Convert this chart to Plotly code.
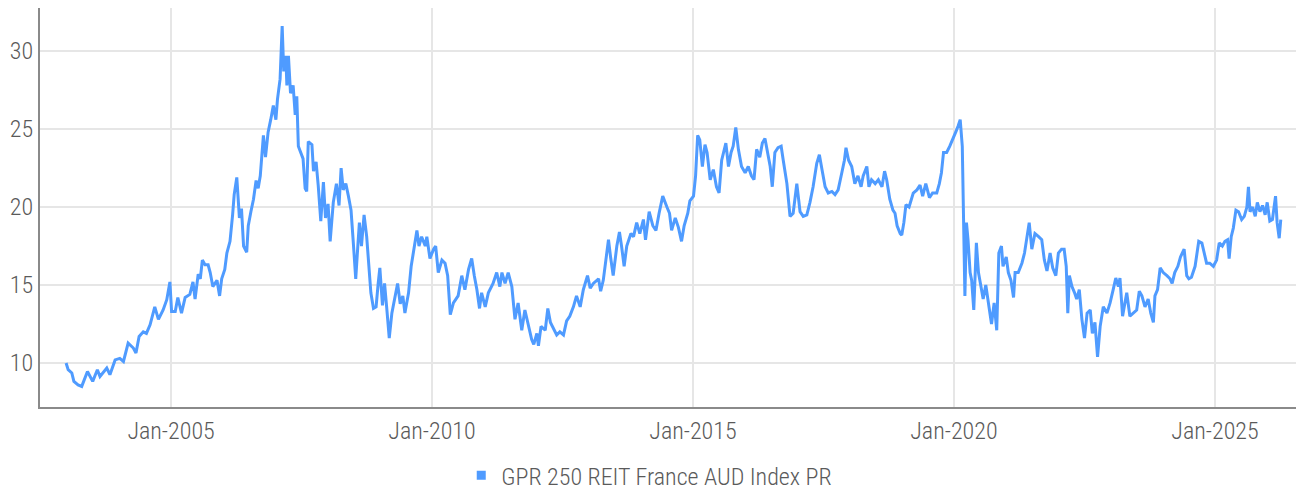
import pandas as pd
import plotly.graph_objects as go

SERIES_NAME = "GPR 250 REIT France AUD Index PR"

# decimal-year dates and index values
years = [
    2002.99, 2003.03, 2003.10, 2003.14, 2003.22, 2003.29, 2003.40, 2003.50, 2003.59, 2003.64,
    2003.77, 2003.83, 2003.93, 2004.02, 2004.09, 2004.18, 2004.28, 2004.33, 2004.39, 2004.47,
    2004.53, 2004.60, 2004.69, 2004.76, 2004.85, 2004.92, 2004.98, 2005.01, 2005.08, 2005.13,
    2005.20, 2005.27, 2005.36, 2005.42, 2005.46, 2005.52, 2005.56, 2005.60, 2005.65, 2005.71,
    2005.75, 2005.80, 2005.88, 2005.93, 2005.97, 2006.03, 2006.07, 2006.13, 2006.18, 2006.21,
    2006.26, 2006.31, 2006.35, 2006.39, 2006.45, 2006.48, 2006.53, 2006.58, 2006.63, 2006.67,
    2006.71, 2006.77, 2006.81, 2006.86, 2006.91, 2006.96, 2007.01, 2007.04, 2007.09, 2007.13,
    2007.16, 2007.20, 2007.22, 2007.25, 2007.29, 2007.34, 2007.38, 2007.41, 2007.44, 2007.50,
    2007.53, 2007.57, 2007.60, 2007.63, 2007.70, 2007.73, 2007.78, 2007.82, 2007.87, 2007.92,
    2007.96, 2008.01, 2008.05, 2008.11, 2008.17, 2008.22, 2008.26, 2008.30, 2008.35, 2008.40,
    2008.45, 2008.49, 2008.54, 2008.58, 2008.61, 2008.65, 2008.70, 2008.75, 2008.79, 2008.83,
    2008.88, 2008.93, 2008.97, 2009.00, 2009.05, 2009.09, 2009.13, 2009.18, 2009.23, 2009.29,
    2009.34, 2009.39, 2009.44, 2009.48, 2009.55, 2009.60, 2009.64, 2009.71, 2009.75, 2009.80,
    2009.87, 2009.90, 2009.96, 2010.03, 2010.07, 2010.12, 2010.19, 2010.25, 2010.30, 2010.35,
    2010.41, 2010.50, 2010.57, 2010.63, 2010.70, 2010.76, 2010.81, 2010.86, 2010.91, 2010.95,
    2011.02, 2011.08, 2011.17, 2011.24, 2011.30, 2011.34, 2011.40, 2011.46, 2011.53, 2011.59,
    2011.65, 2011.72, 2011.78, 2011.85, 2011.91, 2011.95, 2012.01, 2012.04, 2012.09, 2012.17,
    2012.22, 2012.27, 2012.34, 2012.39, 2012.45, 2012.52, 2012.58, 2012.64, 2012.71, 2012.77,
    2012.84, 2012.90, 2012.98, 2013.03, 2013.09, 2013.19, 2013.23, 2013.28, 2013.33, 2013.38,
    2013.42, 2013.47, 2013.54, 2013.59, 2013.63, 2013.68, 2013.73, 2013.81, 2013.86, 2013.92,
    2013.98, 2014.05, 2014.09, 2014.16, 2014.23, 2014.29, 2014.35, 2014.42, 2014.50, 2014.55,
    2014.59, 2014.66, 2014.72, 2014.78, 2014.83, 2014.90, 2014.94, 2015.01, 2015.05, 2015.09,
    2015.13, 2015.18, 2015.23, 2015.27, 2015.33, 2015.39, 2015.45, 2015.50, 2015.55, 2015.63,
    2015.68, 2015.73, 2015.77, 2015.82, 2015.87, 2015.93, 2016.00, 2016.06, 2016.12, 2016.17,
    2016.22, 2016.28, 2016.33, 2016.38, 2016.43, 2016.48, 2016.52, 2016.57, 2016.63, 2016.69,
    2016.73, 2016.80, 2016.86, 2016.92, 2016.99, 2017.05, 2017.11, 2017.18, 2017.24, 2017.30,
    2017.37, 2017.42, 2017.47, 2017.53, 2017.59, 2017.66, 2017.72, 2017.78, 2017.85, 2017.90,
    2017.93, 2017.98, 2018.04, 2018.10, 2018.16, 2018.22, 2018.26, 2018.33, 2018.37, 2018.42,
    2018.49, 2018.55, 2018.62, 2018.67, 2018.71, 2018.77, 2018.83, 2018.87, 2018.91, 2018.97,
    2019.00, 2019.04, 2019.08, 2019.14, 2019.22, 2019.29, 2019.35, 2019.40, 2019.46, 2019.53,
    2019.59, 2019.67, 2019.72, 2019.76, 2019.80, 2019.86, 2019.92, 2019.99, 2020.04, 2020.08,
    2020.12, 2020.16, 2020.19, 2020.21, 2020.24, 2020.27, 2020.31, 2020.34, 2020.38, 2020.43,
    2020.47, 2020.51, 2020.56, 2020.61, 2020.66, 2020.72, 2020.77, 2020.82, 2020.86, 2020.91,
    2020.94, 2021.00, 2021.04, 2021.09, 2021.14, 2021.17, 2021.23, 2021.30, 2021.35, 2021.39,
    2021.44, 2021.49, 2021.55, 2021.62, 2021.68, 2021.73, 2021.78, 2021.84, 2021.89, 2021.95,
    2022.00, 2022.06, 2022.11, 2022.15, 2022.18, 2022.21, 2022.26, 2022.31, 2022.35, 2022.40,
    2022.45, 2022.50, 2022.55, 2022.61, 2022.65, 2022.70, 2022.75, 2022.80, 2022.86, 2022.93,
    2022.99, 2023.05, 2023.10, 2023.15, 2023.18, 2023.23, 2023.31, 2023.37, 2023.44, 2023.50,
    2023.55, 2023.60, 2023.66, 2023.72, 2023.77, 2023.82, 2023.85, 2023.90, 2023.95, 2024.01,
    2024.08, 2024.14, 2024.18, 2024.23, 2024.29, 2024.34, 2024.41, 2024.46, 2024.50, 2024.55,
    2024.62, 2024.69, 2024.75, 2024.79, 2024.84, 2024.90, 2024.97, 2025.03, 2025.08, 2025.14,
    2025.19, 2025.24, 2025.27, 2025.31, 2025.35, 2025.40, 2025.45, 2025.51, 2025.56, 2025.61,
    2025.64, 2025.67, 2025.72, 2025.77, 2025.81, 2025.86, 2025.91, 2025.96, 2026.00, 2026.05,
    2026.10, 2026.16, 2026.19, 2026.23, 2026.26,
]

values = [
    10.0, 9.57, 9.36, 8.82, 8.6, 8.5, 9.46, 8.82, 9.57, 9.14,
    9.68, 9.25, 10.2, 10.3, 10.1, 11.28, 10.96, 10.64, 11.7, 12.0,
    11.9, 12.45, 13.6, 12.8, 13.4, 14.06, 15.2, 13.3, 13.3, 14.2,
    13.2, 14.2, 14.4, 15.2, 14.1, 15.7, 15.4, 16.6, 16.3, 16.3,
    15.8, 14.9, 15.3, 14.3, 15.4, 16.0, 17.05, 17.8, 19.5, 20.8,
    21.9, 19.3, 19.9, 17.5, 17.1, 18.8, 19.7, 20.5, 21.7, 21.2,
    22.0, 24.6, 23.2, 24.8, 25.6, 26.5, 25.6, 26.9, 28.2, 31.6,
    28.7, 29.7, 27.8, 29.7, 27.3, 27.8, 25.9, 27.1, 23.9, 23.3,
    23.1, 21.2, 21.0, 24.2, 24.0, 22.3, 22.9, 21.4, 19.1, 21.6,
    19.3, 20.2, 17.8, 20.3, 21.5, 20.1, 22.5, 21.1, 21.5, 20.7,
    19.8, 17.9, 15.4, 17.5, 19.0, 17.5, 19.5, 18.1, 16.2, 14.5,
    13.5, 13.6, 15.1, 16.1, 13.7, 15.1, 13.6, 11.6, 13.2, 14.3,
    15.1, 13.8, 14.3, 13.2, 14.5, 16.2, 17.05, 18.5, 17.5, 18.1,
    17.5, 18.1, 16.7, 17.3, 17.5, 15.8, 16.6, 16.4, 15.6, 13.1,
    13.85, 14.3, 15.6, 14.7, 16.0, 16.7, 15.6, 14.7, 13.5, 14.5,
    13.6, 14.5, 15.1, 15.8, 14.9, 15.8, 15.1, 15.8, 14.9, 12.8,
    13.85, 12.1, 13.4, 12.35, 11.5, 11.2, 11.9, 11.1, 12.35, 12.1,
    13.5, 12.6, 12.1, 11.8, 12.0, 11.8, 12.7, 13.0, 13.6, 14.3,
    13.6, 14.7, 15.6, 14.8, 15.1, 15.4, 14.6, 15.3, 16.6, 17.9,
    16.8, 15.6, 17.5, 18.4, 17.5, 16.2, 17.5, 18.3, 18.1, 19.0,
    18.3, 19.2, 17.9, 19.7, 18.8, 18.5, 19.6, 20.7, 20.0, 19.6,
    18.5, 19.3, 18.7, 17.8, 18.8, 19.6, 20.4, 20.7, 22.0, 24.6,
    24.3, 22.6, 24.0, 23.5, 21.75, 22.4, 21.3, 20.9, 23.0, 24.1,
    22.6, 23.5, 23.9, 25.1, 23.7, 22.6, 22.2, 22.6, 22.0, 21.75,
    23.7, 23.2, 24.1, 24.4, 23.5, 22.6, 21.3, 23.5, 23.8, 23.9,
    23.0, 21.5, 19.4, 19.6, 21.5, 19.7, 19.4, 19.5, 20.3, 21.3,
    22.8, 23.35, 22.4, 21.3, 20.9, 21.0, 20.8, 21.1, 22.2, 23.0,
    23.8, 23.0, 22.6, 21.5, 22.0, 21.3, 22.0, 22.6, 21.3, 21.75,
    21.5, 21.75, 21.3, 22.3, 21.75, 20.5, 19.8, 19.6, 18.8, 18.3,
    18.2, 19.0, 20.15, 20.0, 20.9, 21.1, 21.4, 20.7, 21.5, 20.6,
    20.9, 20.9, 21.5, 22.2, 23.5, 23.5, 23.9, 24.4, 24.85, 25.2,
    25.6, 23.9, 19.2, 14.3, 19.0, 17.9, 15.8, 15.3, 13.4, 17.7,
    15.8, 15.1, 14.1, 15.0, 13.85, 12.5, 13.85, 12.1, 17.05, 17.5,
    16.2, 16.8, 15.8, 15.3, 14.2, 15.8, 15.8, 16.4, 17.05, 17.9,
    19.0, 17.3, 18.3, 18.1, 17.9, 16.6, 15.9, 17.05, 16.1, 15.6,
    17.05, 17.3, 17.3, 16.2, 13.2, 15.6, 14.9, 14.5, 14.1, 14.7,
    12.8, 11.6, 13.2, 13.4, 11.9, 12.6, 10.4, 12.35, 13.6, 13.2,
    13.85, 14.7, 15.45, 14.9, 15.45, 13.0, 14.5, 13.0, 13.2, 13.4,
    14.6, 14.3, 13.6, 14.1, 13.2, 12.6, 14.3, 14.7, 16.1, 15.8,
    15.6, 15.4, 15.1, 15.8, 16.2, 16.8, 17.3, 15.6, 15.4, 15.5,
    16.2, 17.8, 17.7, 17.05, 16.4, 16.4, 16.2, 16.6, 17.7, 17.5,
    17.8, 17.9, 16.7, 18.1, 18.65, 19.8, 19.7, 19.2, 19.4, 20.0,
    21.3, 19.7, 20.0, 19.4, 20.3, 19.7, 20.1, 19.5, 20.3, 19.1,
    19.2, 20.7, 19.0, 18.0, 19.2,
]

y_ticks = [10, 15, 20, 25, 30]
x_tick_years = [2005, 2010, 2015, 2020, 2025]
x_tick_labels = ["Jan-2005", "Jan-2010", "Jan-2015", "Jan-2020", "Jan-2025"]


def to_date(y):
    base = int(y)
    return pd.Timestamp(f"{base}-01-01") + pd.Timedelta(days=(y - base) * 365.25)


dates = [to_date(y) for y in years]
tick_dates = [pd.Timestamp(f"{y}-01-01") for y in x_tick_years]

LINE_COLOR = "#4f9bff"
FONT = "Roboto Condensed, Liberation Sans Narrow, Arial Narrow, sans-serif"

fig = go.Figure()
fig.add_trace(go.Scatter(
    x=dates, y=values, mode="lines", name=SERIES_NAME,
    line=dict(color=LINE_COLOR, width=3), showlegend=False,
))
fig.add_trace(go.Scatter(
    x=[None], y=[None], mode="markers", name=SERIES_NAME,
    marker=dict(symbol="square", size=9, color=LINE_COLOR),
))

# the page body has an 8px default margin, so the figure is sized to fit
fig.update_layout(
    width=1296, height=485,
    margin=dict(l=32, r=0, t=0, b=86, autoexpand=False),
    paper_bgcolor="white", plot_bgcolor="white",
    font=dict(family=FONT, size=24, color="#5a5a5a", weight=300),
    legend=dict(
        orientation="h", x=0.482, xanchor="center",
        y=0.036, yref="container", yanchor="middle",
        font=dict(family=FONT, size=24, color="#5a5a5a", weight=300),
        itemwidth=30,
    ),
    xaxis=dict(
        type="date", automargin=False,
        range=[to_date(2002.49), to_date(2026.705)],
        tickvals=tick_dates, ticktext=x_tick_labels,
        showgrid=True, gridcolor="#e6e6e6", gridwidth=2,
        showline=True, linecolor="#8a8a8a", linewidth=2,
        ticks="", ticklabelstandoff=1,
        zeroline=False,
    ),
    yaxis=dict(
        automargin=False,
        range=[7.18, 32.76],
        tickvals=y_ticks,
        showgrid=True, gridcolor="#e6e6e6", gridwidth=2,
        showline=True, linecolor="#8a8a8a", linewidth=2,
        ticks="", ticklabelstandoff=0,
        zeroline=False,
    ),
)

fig.write_html("out.html")
